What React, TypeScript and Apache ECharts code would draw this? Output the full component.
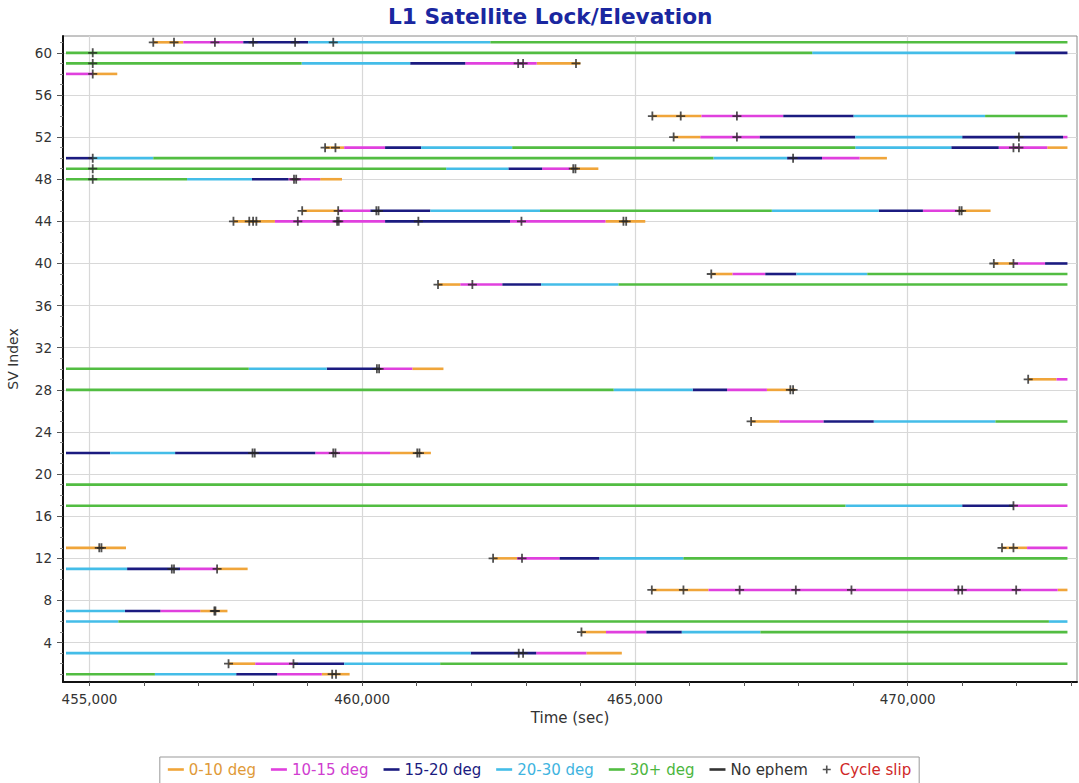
import React, { useEffect, useRef } from 'react';
import * as echarts from 'echarts';

// ---- segment data: [start time (s), end time (s), SV index] ----
const band0to10: number[][] = [
  [456170, 456720, 61], [463200, 464000, 59], [455060, 455510, 58], [465320, 466220, 54],
  [465710, 466200, 52], [459320, 459670, 51], [472560, 472930, 51], [469120, 469620, 50],
  [463810, 464330, 49], [459230, 459630, 48], [458900, 459560, 45], [470910, 471520, 45],
  [457640, 458400, 44], [464460, 465190, 44], [471580, 471940, 40], [466400, 466790, 39],
  [461390, 461800, 38], [460920, 461490, 30], [472210, 472730, 29], [467420, 467940, 28],
  [467130, 467650, 25], [460510, 461260, 22], [454570, 455670, 13], [471730, 472190, 13],
  [462400, 462840, 12], [457340, 457900, 11], [465310, 466350, 9], [472750, 472930, 9],
  [457030, 457530, 7], [464020, 464470, 5], [464110, 464760, 3], [457550, 458040, 2],
  [459260, 459770, 1],
];
const band10to15: number[][] = [
  [456720, 457820, 61], [461890, 463200, 59], [454570, 455060, 58], [466220, 467720, 54],
  [466200, 467290, 52], [472850, 472930, 52], [459670, 460420, 51], [471670, 472560, 51],
  [468430, 469120, 50], [463300, 463810, 49], [458650, 459230, 48], [459560, 460150, 45],
  [470280, 470910, 45], [458400, 460420, 44], [462710, 464460, 44], [471940, 472520, 40],
  [466790, 467390, 39], [461800, 462570, 38], [460330, 460920, 30], [472730, 472930, 29],
  [466690, 467420, 28], [467650, 468460, 25], [459140, 460510, 22], [471940, 472930, 17],
  [472190, 472930, 13], [462840, 463620, 12], [456660, 457340, 11], [466350, 472750, 9],
  [456300, 457030, 7], [464470, 465210, 5], [463190, 464110, 3], [458040, 458740, 2],
  [458440, 459260, 1],
];
const band15to20: number[][] = [
  [457820, 459010, 61], [471970, 472930, 60], [460880, 461890, 59], [467720, 469010, 54],
  [467290, 469040, 52], [471000, 472850, 52], [460420, 461080, 51], [470800, 471670, 51],
  [454570, 455060, 50], [467790, 468430, 50], [462680, 463300, 49], [457980, 458650, 48],
  [460150, 461250, 45], [469470, 470280, 45], [460420, 462710, 44], [472520, 472930, 40],
  [467390, 467960, 39], [462570, 463280, 38], [459350, 460330, 30], [466060, 466690, 28],
  [468460, 469380, 25], [454570, 455380, 22], [456570, 459140, 22], [471000, 471940, 17],
  [463620, 464350, 12], [455690, 456660, 11], [455650, 456300, 7], [465210, 465860, 5],
  [461990, 463190, 3], [458740, 459670, 2], [457690, 458440, 1],
];
const band20to30: number[][] = [
  [459010, 462350, 61], [468250, 471970, 60], [458890, 460880, 59], [469010, 471420, 54],
  [469040, 471000, 52], [461080, 462750, 51], [469040, 470800, 51], [455060, 456170, 50],
  [466440, 467790, 50], [461540, 462680, 49], [456790, 457980, 48], [461250, 463260, 45],
  [467510, 469470, 45], [467960, 469260, 39], [463280, 464700, 38], [457920, 459350, 30],
  [464610, 466060, 28], [469380, 471610, 25], [455380, 456570, 22], [468860, 471000, 17],
  [464350, 465890, 12], [454570, 455690, 11], [454570, 455650, 7], [454570, 455530, 6],
  [472590, 472930, 6], [465860, 467300, 5], [454570, 461990, 3], [459670, 461430, 2],
  [456200, 457690, 1],
];
const band30plus: number[][] = [
  [462350, 472930, 61], [454570, 468250, 60], [454570, 458890, 59], [471420, 472930, 54],
  [462750, 469040, 51], [456170, 466440, 50], [454570, 461540, 49], [454570, 456790, 48],
  [463260, 467510, 45], [469260, 472930, 39], [464700, 472930, 38], [454570, 457920, 30],
  [454570, 464610, 28], [471610, 472930, 25], [454570, 472930, 19], [454570, 468860, 17],
  [465890, 472930, 12], [455530, 472590, 6], [467300, 472930, 5], [461430, 472930, 2],
  [454570, 456200, 1],
];
const noEphem: number[][] = [];

// ---- cycle slips: [time (s), SV index] ----
const cycleSlips: number[][] = [
  [456170, 61], [456550, 61], [457300, 61], [458000, 61], [458770, 61], [459470, 61],
  [455060, 60], [455060, 59], [462860, 59], [462950, 59], [463920, 59], [455060, 58],
  [465320, 54], [465840, 54], [466870, 54], [465710, 52], [466870, 52], [472040, 52],
  [459320, 51], [459510, 51], [471940, 51], [472040, 51], [455060, 50], [467900, 50],
  [455060, 49], [463870, 49], [463910, 49], [455060, 48], [458750, 48], [458790, 48],
  [458900, 45], [459560, 45], [460260, 45], [460300, 45], [470950, 45], [470990, 45],
  [457640, 44], [457930, 44], [458000, 44], [458060, 44], [458820, 44], [459540, 44],
  [459570, 44], [461030, 44], [462920, 44], [464790, 44], [464840, 44],
  [471580, 40], [471940, 40], [466400, 39], [461390, 38], [462020, 38],
  [460270, 30], [460310, 30], [472210, 29], [467850, 28], [467900, 28], [467130, 25],
  [457990, 22], [458030, 22], [459470, 22], [459510, 22], [461010, 22], [461050, 22],
  [471940, 17], [455180, 13], [455220, 13], [471730, 13], [471940, 13],
  [462400, 12], [462930, 12], [456510, 11], [456550, 11], [457340, 11],
  [465310, 9], [465890, 9], [466920, 9], [467950, 9], [468970, 9], [470930, 9], [471000, 9], [471990, 9],
  [457290, 7], [457310, 7], [464020, 5], [462870, 3], [462950, 3], [457550, 2], [458740, 2],
  [459450, 1], [459520, 1],
];

// ---- axis ticks ----
const xLabelValues = [455000, 460000, 465000, 470000];
const xTickValues = [455000, 456000, 457000, 458000, 459000, 460000, 461000, 462000, 463000,
  464000, 465000, 466000, 467000, 468000, 469000, 470000, 471000, 472000, 473000];
const yLabelValues = [4, 8, 12, 16, 20, 24, 28, 32, 36, 40, 44, 48, 52, 56, 60];
const yMinorValues = [1, 2, 3, 5, 6, 7, 9, 10, 11, 13, 14, 15, 17, 18, 19, 21, 22, 23, 25, 26, 27,
  29, 30, 31, 33, 34, 35, 37, 38, 39, 41, 42, 43, 45, 46, 47, 49, 50, 51, 53, 54, 55, 57, 58, 59, 61];

const FONT = 'DejaVu Sans';
const LINE_ICON = 'path://M0,0H16V2.6H0Z';
const PLUS_ICON = 'path://M4,0H6V4H10V6H6V10H4V6H0V4H4Z';

const bands = [
  { name: '0-10 deg', color: '#f0a53a', text: '#e09a38', data: band0to10 },
  { name: '10-15 deg', color: '#e040de', text: '#d03ed0', data: band10to15 },
  { name: '15-20 deg', color: '#1b1b80', text: '#1b1b80', data: band15to20 },
  { name: '20-30 deg', color: '#44bde8', text: '#3fb4e0', data: band20to30 },
  { name: '30+ deg', color: '#52bd42', text: '#4cb63e', data: band30plus },
  { name: 'No ephem', color: '#333333', text: '#333333', data: noEphem },
];

const fmt = (v: number) => String(v).replace(/\B(?=(\d{3})+(?!\d))/g, ',');

export default function App() {
  const ref = useRef<HTMLDivElement>(null);
  useEffect(() => {
    if (!ref.current) return;
    const chart = echarts.init(ref.current, null, { renderer: 'svg' });

    const segSeries = bands.map((b) => ({
      type: 'custom',
      name: b.name,
      data: b.data,
      encode: { x: [0, 1], y: 2 },
      clip: true,
      z: 3,
      itemStyle: { color: b.color },
      renderItem: (_params: any, api: any) => {
        const p0 = api.coord([api.value(0), api.value(2)]);
        const p1 = api.coord([api.value(1), api.value(2)]);
        return {
          type: 'line',
          shape: { x1: p0[0], y1: p0[1], x2: p1[0], y2: p1[1] },
          style: { stroke: b.color, lineWidth: 2.6, lineCap: 'butt' },
        };
      },
    }));

    const option: any = {
      animation: false,
      backgroundColor: '#ffffff',
      textStyle: { fontFamily: FONT },
      title: {
        text: 'L1 Satellite Lock/Elevation',
        left: 388,
        top: 5,
        padding: 0,
        textStyle: { fontFamily: FONT, fontSize: 21.7, fontWeight: 'bold', color: '#1a27a0' },
      },
      grid: {
        left: 63, right: 2, top: 36, bottom: 101,
        show: true, borderColor: '#8a8a8a', borderWidth: 1, backgroundColor: 'transparent',
        containLabel: false, outerBoundsMode: 'none',
      },
      legend: {
        left: 'center',
        top: 757,
        orient: 'horizontal',
        itemWidth: 16,
        itemHeight: 8,
        itemGap: 15,
        padding: [5, 8, 8, 8],
        borderColor: '#999999',
        borderWidth: 1,
        selectedMode: false,
        textStyle: { fontFamily: FONT, fontSize: 15 },
        data: [
          ...bands.map((b) => ({ name: b.name, icon: LINE_ICON, textStyle: { color: b.text } })),
          { name: 'Cycle slip', icon: PLUS_ICON, textStyle: { color: '#d02828' } },
        ],
      },
      xAxis: {
        type: 'value',
        min: 454515,
        max: 473105,
        name: 'Time (sec)',
        nameLocation: 'middle',
        nameGap: 27,
        nameTextStyle: { fontFamily: FONT, fontSize: 15, color: '#333' },
        axisLine: { show: true, onZero: false, lineStyle: { color: '#111', width: 2 } },
        axisTick: { show: true, customValues: xTickValues, length: 4, lineStyle: { color: '#555' } },
        axisLabel: { customValues: xLabelValues, formatter: (v: number) => fmt(v), fontFamily: FONT, fontSize: 13.5, color: '#333', margin: 10 },
        splitLine: { show: false },
      },
      yAxis: [
        {
          type: 'value',
          min: 0.26,
          max: 61.6,
          name: 'SV Index',
          nameLocation: 'middle',
          nameGap: 43,
          nameTextStyle: { fontFamily: FONT, fontSize: 14, color: '#333' },
          axisLine: { show: true, onZero: false, lineStyle: { color: '#111', width: 2 } },
          axisTick: { show: true, customValues: yLabelValues, length: 6, lineStyle: { color: '#555' } },
          axisLabel: { customValues: yLabelValues, fontFamily: FONT, fontSize: 13.5, color: '#333', margin: 11 },
          splitLine: { show: false },
        },
        {
          type: 'value',
          min: 0.26,
          max: 61.6,
          position: 'left',
          offset: 0,
          axisLine: { show: false },
          axisTick: { show: true, customValues: yMinorValues, length: 3, lineStyle: { color: '#888' } },
          axisLabel: { show: false },
          splitLine: { show: false },
        },
      ],
      series: [
        {
          type: 'line',
          name: 'grid',
          data: [],
          z: 0,
          zlevel: 0,
          silent: true,
          markLine: {
            silent: true,
            z: 0,
            symbol: ['none', 'none'],
            label: { show: false },
            lineStyle: { color: '#d8d8d8', width: 1.2, type: 'solid' },
            emphasis: { disabled: true },
            data: [
              ...xLabelValues.map((v) => ({ xAxis: v })),
              ...yLabelValues.map((v) => ({ yAxis: v })),
            ],
          },
        },
        ...segSeries,
        {
          type: 'scatter',
          name: 'Cycle slip',
          data: cycleSlips,
          symbol: PLUS_ICON,
          symbolSize: 9,
          z: 5,
          itemStyle: { color: '#262626' },
        },
      ],
    };

    chart.setOption(option);
    return () => chart.dispose();
  }, []);

  return <div ref={ref} style={{ position: 'fixed', left: 0, top: 0, width: 1079, height: 783 }} />;
}
